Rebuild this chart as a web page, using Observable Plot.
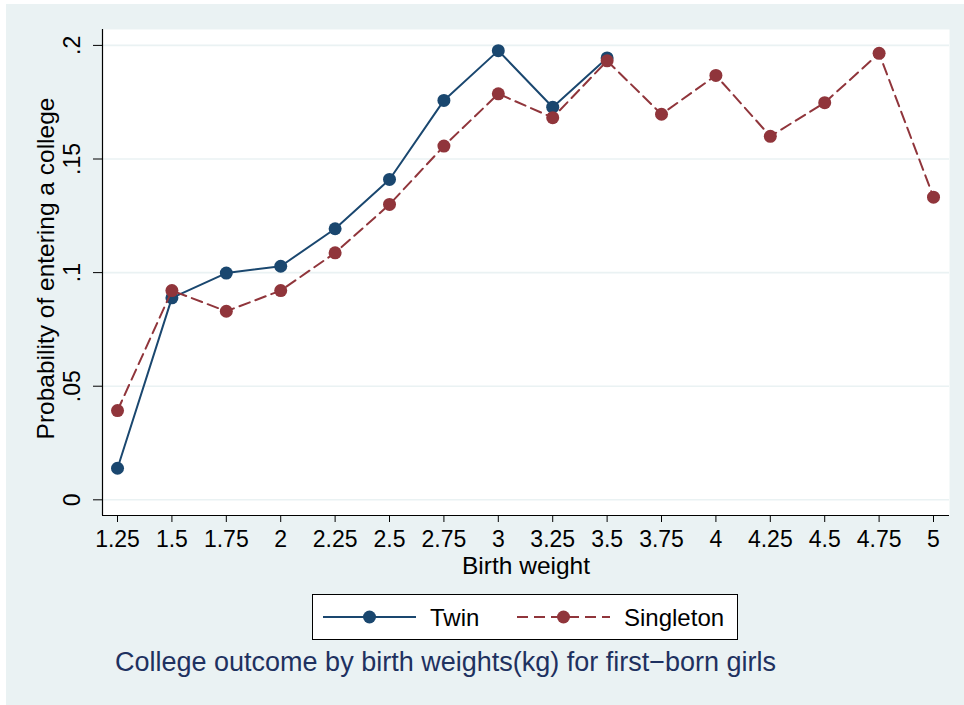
<!DOCTYPE html>
<html>
<head>
<meta charset="utf-8">
<script src="https://cdn.jsdelivr.net/npm/d3@7"></script>
<script src="https://cdn.jsdelivr.net/npm/@observablehq/plot@0.6"></script>
<style>
  html, body { margin: 0; padding: 0; background: #ffffff; }
  body { width: 964px; height: 705px; position: relative; overflow: hidden; font-family: "Liberation Sans", Arial, Helvetica, sans-serif; }
  #wrap { position: absolute; left: 6px; top: 4px; width: 958px; height: 701px; background: #eaf2f3; }
  #chart { position: absolute; left: 0; top: 0; }
  #legend { position: absolute; left: 306px; top: 590px; width: 424px; height: 44px; border: 1px solid #000; background: #fff; }
  #caption { position: absolute; left: 109px; top: 645px; font-size: 27px; line-height: 1; color: #1e3160; white-space: nowrap; }
</style>
</head>
<body>
<div id="wrap">
  <div id="chart"></div>
  <div id="legend"></div>
  <div id="caption"></div>
</div>
<script>
// ---- data ----
const weightsTwin = [1.25, 1.5, 1.75, 2, 2.25, 2.5, 2.75, 3, 3.25, 3.5];
const twinValues = [0.0139, 0.0889, 0.0998, 0.1028, 0.1193, 0.141, 0.1758, 0.1977, 0.1728, 0.1945];
const weightsSingleton = [1.25, 1.5, 1.75, 2, 2.25, 2.5, 2.75, 3, 3.25, 3.5, 3.75, 4, 4.25, 4.5, 4.75, 5];
const singletonValues = [0.0393, 0.0921, 0.0830, 0.0921, 0.1087, 0.130, 0.1557, 0.1787, 0.1682, 0.1932, 0.1697, 0.1868, 0.160, 0.1748, 0.1965, 0.1332];
const xTicks = [1.25, 1.5, 1.75, 2, 2.25, 2.5, 2.75, 3, 3.25, 3.5, 3.75, 4, 4.25, 4.5, 4.75, 5];
const xTickLabels = ["1.25", "1.5", "1.75", "2", "2.25", "2.5", "2.75", "3", "3.25", "3.5", "3.75", "4", "4.25", "4.5", "4.75", "5"];
const yTicks = [0, 0.05, 0.1, 0.15, 0.2];
const yTickLabels = ["0", ".05", ".1", ".15", ".2"];
const seriesNames = ["Twin", "Singleton"];
const xTitle = "Birth weight";
const yTitle = "Probability of entering a college";
const captionText = "College outcome by birth weights(kg) for first\u2212born girls";

// ---- style ----
const twinColor = "#1a476f";
const singColor = "#90353b";
const xDomain = [1.181, 5.0735];
const yDomain = [-0.0069, 0.207];

const twin = weightsTwin.map((w, i) => ({w, v: twinValues[i]}));
const singleton = weightsSingleton.map((w, i) => ({w, v: singletonValues[i]}));

const chart = Plot.plot({
  width: 958,
  height: 585,
  marginLeft: 96,
  marginRight: 15,
  marginTop: 25,
  marginBottom: 74,
  style: {background: "transparent", fontFamily: "'Liberation Sans', Arial, Helvetica, sans-serif", overflow: "visible", color: "#000"},
  x: {domain: xDomain},
  y: {domain: yDomain},
  marks: [
    Plot.frame({fill: "white", stroke: null}),
    Plot.ruleY(yTicks, {stroke: "#eaf2f3", strokeWidth: 1.6}),
    Plot.ruleX([xDomain[0]], {stroke: "#000", strokeWidth: 1.2}),
    Plot.ruleY([yDomain[0]], {stroke: "#000", strokeWidth: 1.2}),
    Plot.axisX(xTicks, {tickSize: 7, tickPadding: 8, fontSize: 23, tickFormat: (d, i) => xTickLabels[i], label: null, stroke: "#000"}),
    Plot.axisY(yTicks, {tickSize: 9, tickPadding: 14, tickRotate: -90, fontSize: 23, tickFormat: (d, i) => yTickLabels[i], label: null, stroke: "#000"}),
    Plot.text([xTitle], {frameAnchor: "bottom", dy: 51, text: d => d, fontSize: 24.5, lineAnchor: "middle", fill: "#000"}),
    Plot.text([yTitle], {frameAnchor: "left", dx: -56, dy: -4, rotate: -90, text: d => d, fontSize: 24.5, textAnchor: "middle", lineAnchor: "middle", fill: "#000"}),
    Plot.line(twin, {x: "w", y: "v", stroke: twinColor, strokeWidth: 2}),
    Plot.dot(twin, {x: "w", y: "v", r: 6.5, fill: twinColor, stroke: null}),
    Plot.line(singleton, {x: "w", y: "v", stroke: singColor, strokeWidth: 2, strokeDasharray: "11,6"}),
    Plot.dot(singleton, {x: "w", y: "v", r: 6.5, fill: singColor, stroke: null})
  ]
});
document.getElementById("chart").appendChild(chart);

// ---- legend ----
const ns = "http://www.w3.org/2000/svg";
const lsvg = document.createElementNS(ns, "svg");
lsvg.setAttribute("width", 424);
lsvg.setAttribute("height", 44);
lsvg.style.display = "block";
const entries = [
  {name: seriesNames[0], color: twinColor, dash: null, x0: 10},
  {name: seriesNames[1], color: singColor, dash: "11,6", x0: 204}
];
for (const e of entries) {
  const ln = document.createElementNS(ns, "line");
  ln.setAttribute("x1", e.x0); ln.setAttribute("x2", e.x0 + 93);
  ln.setAttribute("y1", 22); ln.setAttribute("y2", 22);
  ln.setAttribute("stroke", e.color); ln.setAttribute("stroke-width", 2);
  if (e.dash) ln.setAttribute("stroke-dasharray", e.dash);
  lsvg.appendChild(ln);
  const c = document.createElementNS(ns, "circle");
  c.setAttribute("cx", e.x0 + 46.5); c.setAttribute("cy", 22); c.setAttribute("r", 6.5);
  c.setAttribute("fill", e.color);
  lsvg.appendChild(c);
  const t = document.createElementNS(ns, "text");
  t.setAttribute("x", e.x0 + 107); t.setAttribute("y", 30.5);
  t.setAttribute("font-size", 24);
  t.setAttribute("font-family", "'Liberation Sans', Arial, Helvetica, sans-serif");
  t.setAttribute("fill", "#000");
  t.textContent = e.name;
  lsvg.appendChild(t);
}
document.getElementById("legend").appendChild(lsvg);
document.getElementById("caption").textContent = captionText;
</script>
</body>
</html>
